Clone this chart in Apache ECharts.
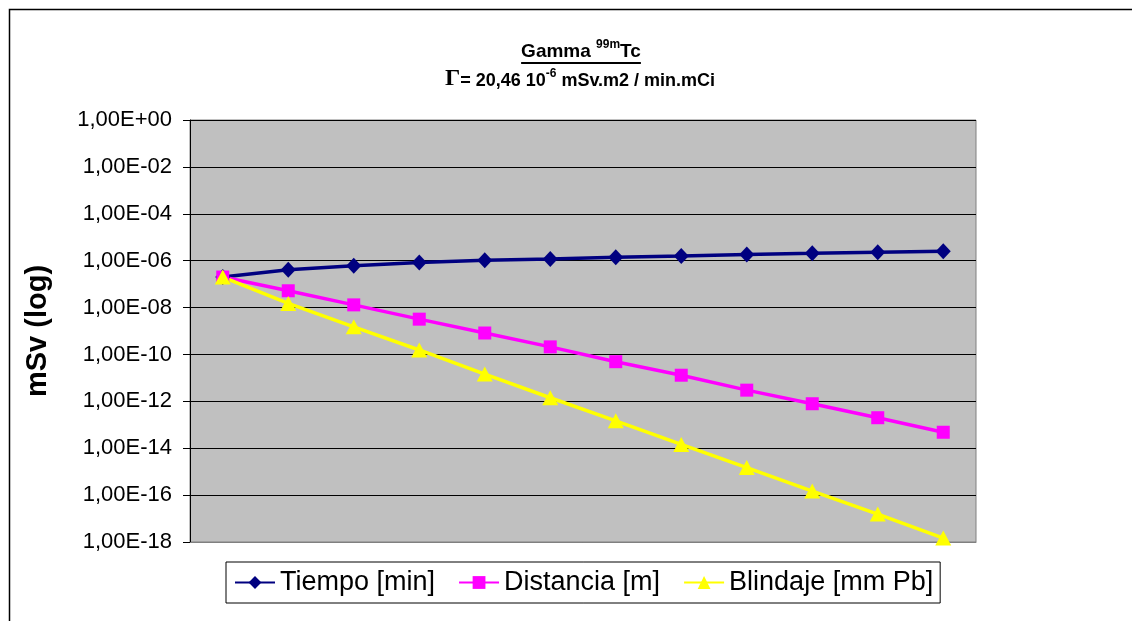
<!DOCTYPE html>
<html><head><meta charset="utf-8">
<script src="https://cdn.jsdelivr.net/npm/echarts@6/dist/echarts.min.js"></script>
<style>html,body{margin:0;padding:0;background:#fff}#c{width:1132px;height:621px}</style>
</head><body><div id="c"></div>
<script>
// ---- data ----
const categories = ['1','2','3','4','5','6','7','8','9','10','11','12'];
const seriesNames = ['Tiempo [min]', 'Distancia [m]', 'Blindaje [mm Pb]'];
const tiempo = [2.0e-7, 4.1e-7, 6.0e-7, 8.3e-7, 1.05e-6, 1.18e-6, 1.4e-6, 1.6e-6, 1.85e-6, 2.05e-6, 2.3e-6, 2.5e-6];
const distancia = [2.0e-7, 5.2e-8, 1.3e-8, 3.2e-9, 8.2e-10, 2.1e-10, 4.9e-11, 1.3e-11, 3.0e-12, 7.9e-13, 2.0e-13, 4.8e-14];
const blindaje = [2.0e-7, 1.5e-8, 1.5e-9, 1.55e-10, 1.45e-11, 1.42e-12, 1.48e-13, 1.45e-14, 1.5e-15, 1.48e-16, 1.55e-17, 1.47e-18];
const yTickLabels = {
  '0':'1,00E+00','-2':'1,00E-02','-4':'1,00E-04','-6':'1,00E-06','-8':'1,00E-08',
  '-10':'1,00E-10','-12':'1,00E-12','-14':'1,00E-14','-16':'1,00E-16','-18':'1,00E-18'
};
const titleLine1 = [['Gamma ', 'main'], ['99m', 'sup'], ['Tc', 'main']];
const titleLine2 = [['\u0393', 'gamma'], ['= 20,46 10', 'sub'], ['-6', 'sup2'], [' mSv.m2 / min.mCi', 'sub']];

// ---- layout helpers ----
const SANS = '"Liberation Sans", Arial, sans-serif';
const fonts = {
  main: {font: 'bold 19px ' + SANS, y: 52},
  sup: {font: 'bold 12px ' + SANS, y: 45},
  gamma: {font: 'bold 24px "Liberation Serif", "Times New Roman", serif', y: 79},
  sub: {font: 'bold 18px ' + SANS, y: 81},
  sup2: {font: 'bold 12px ' + SANS, y: 74}
};
const mctx = document.createElement('canvas').getContext('2d');
function tw(font, t) { mctx.font = font; return mctx.measureText(t).width; }
function lineEls(pieces, cx) {
  const total = pieces.reduce((s, p) => s + tw(fonts[p[1]].font, p[0]), 0);
  let x = cx - total / 2;
  const els = [];
  pieces.forEach(p => {
    const f = fonts[p[1]];
    els.push({type: 'text', x: x, y: f.y, silent: true,
      style: {text: p[0], font: f.font, fill: '#000', textAlign: 'left', textVerticalAlign: 'middle', verticalAlign: 'middle'}});
    x += tw(f.font, p[0]);
  });
  return {els, left: cx - total / 2, right: cx + total / 2};
}
const l1 = lineEls(titleLine1, 581);
const l2 = lineEls(titleLine2, 580);

const chart = echarts.init(document.getElementById('c'), null, {renderer: 'canvas'});
chart.setOption({
  animation: false,
  backgroundColor: '#fff',
  textStyle: {fontFamily: SANS},
  graphic: [
    {type: 'rect', shape: {x: 9.5, y: 9.5, width: 1200, height: 700}, silent: true,
     style: {fill: 'none', stroke: '#000', lineWidth: 1.5}},
    ...l1.els,
    {type: 'line', silent: true, shape: {x1: l1.left, y1: 63, x2: l1.right, y2: 63},
     style: {stroke: '#000', lineWidth: 1.8}},
    ...l2.els
  ],
  grid: {left: 190, right: 156, top: 120, bottom: 79, show: true,
         backgroundColor: '#C0C0C0', borderColor: '#808080', borderWidth: 1},
  legend: {
    data: seriesNames, left: 226, top: 562, orient: 'horizontal',
    padding: [7, 7, 7, 8], itemGap: 23, itemWidth: 40, itemHeight: 16,
    borderColor: '#000', borderWidth: 1, backgroundColor: '#fff',
    textStyle: {fontSize: 27, color: '#000', fontFamily: SANS}
  },
  xAxis: {
    type: 'category', data: categories, boundaryGap: true,
    axisLine: {show: true, lineStyle: {color: '#808080', width: 1}},
    axisTick: {show: false}, axisLabel: {show: false}, splitLine: {show: false}
  },
  yAxis: {
    type: 'log', logBase: 10, min: 1e-18, max: 1, interval: 2,
    name: 'mSv (log)', nameLocation: 'middle', nameRotate: 90, nameGap: 138,
    nameTextStyle: {fontSize: 29, fontWeight: 'bold', color: '#000', fontFamily: SANS},
    axisLine: {show: true, lineStyle: {color: '#000', width: 1}},
    axisTick: {show: true, inside: false, length: 7, lineStyle: {color: '#000'}},
    axisLabel: {margin: 18, fontSize: 22, color: '#000', fontFamily: SANS,
      formatter: v => yTickLabels[String(Math.round(Math.log10(v)))] || ''},
    splitLine: {show: true, lineStyle: {color: '#000', width: 1}},
    minorTick: {show: false}
  },
  series: [
    {name: seriesNames[0], type: 'line', data: tiempo, symbol: 'diamond', symbolSize: [15, 16],
     clip: false, lineStyle: {color: '#000080', width: 3.5}, itemStyle: {color: '#000080'}},
    {name: seriesNames[1], type: 'line', data: distancia, symbol: 'rect', symbolSize: 13,
     clip: false, lineStyle: {color: '#FF00FF', width: 3.5}, itemStyle: {color: '#FF00FF'}},
    {name: seriesNames[2], type: 'line', data: blindaje, symbol: 'triangle', symbolSize: [16, 15],
     clip: false, lineStyle: {color: '#FFFF00', width: 3.5}, itemStyle: {color: '#FFFF00'}}
  ]
});
</script></body></html>
